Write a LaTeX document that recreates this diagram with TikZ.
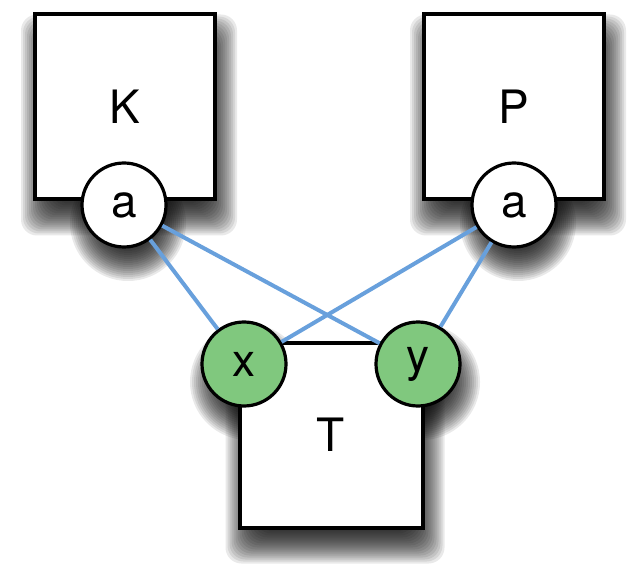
\documentclass[tikz,border=0pt]{standalone}
\usepackage{fontspec}
\setmainfont{TeX Gyre Heros}
\usepackage{tikz}
\usetikzlibrary{backgrounds}

\definecolor{portgreen}{RGB}{128,200,126}
\definecolor{linkblue}{RGB}{104,160,220}

% soft drop shadows, drawn as stacked translucent layers
\newcommand{\shadowbox}[1]{%
  \foreach \s in {-8,...,8}
    \fill[shade] ([shift={(2pt-\s*1pt,-9pt-\s*1pt)}]#1.south west)
      rectangle ([shift={(2pt+\s*1pt,-9pt+\s*1pt)}]#1.north east);}
\newcommand{\shadowdisc}[1]{%
  \foreach \s in {-8,...,8}
    \fill[shade] ([shift={(2pt,-9pt)}]#1.center) circle[radius=21pt+\s*1pt];}

\begin{document}
\begin{tikzpicture}[
    x=0.5pt, y=-0.5pt,
    box/.style={rectangle, draw, line width=2pt, fill=white,
      minimum width=90pt, minimum height=92.5pt, font=\fontsize{23}{27}\selectfont},
    port/.style={circle, draw, line width=1.6pt, fill=white, minimum size=42pt, inner sep=0pt,
      font=\fontsize{23}{27}\selectfont},
    input/.style={port, fill=portgreen},
    link/.style={draw=linkblue, line width=2pt},
    shade/.style={black, opacity=0.085, rounded corners=8pt},
  ]
  \useasboundingbox (0,0) rectangle (640,576);

  %% --- Components (boxes) ---
  \node[box] (K) at (125,107) {K};
  \node[box] (P) at (514,107) {P};
  \node[box, minimum width=91.5pt] (T) at (331,435) {T};

  %% --- Ports ---
  % outputs of K and P
  \node[port] (Ka) at (124,205) {a};
  \node[port] (Pa) at (514,205) {a};
  % inputs of T
  \node[input] (Tx) at (244,364) {x};
  \node[input] (Ty) at (418,364) {y};

  %% --- Shadows ---
  \begin{scope}[on background layer]
    \shadowbox{K} \shadowbox{P} \shadowbox{T}
    \shadowdisc{Ka} \shadowdisc{Pa} \shadowdisc{Tx} \shadowdisc{Ty}
  \end{scope}

  %% --- Links: every output to every input ---
  \draw[link] (Ka) -- (Tx);
  \draw[link] (Ka) -- (Ty);
  \draw[link] (Pa) -- (Tx);
  \draw[link] (Pa) -- (Ty);
\end{tikzpicture}
\end{document}
